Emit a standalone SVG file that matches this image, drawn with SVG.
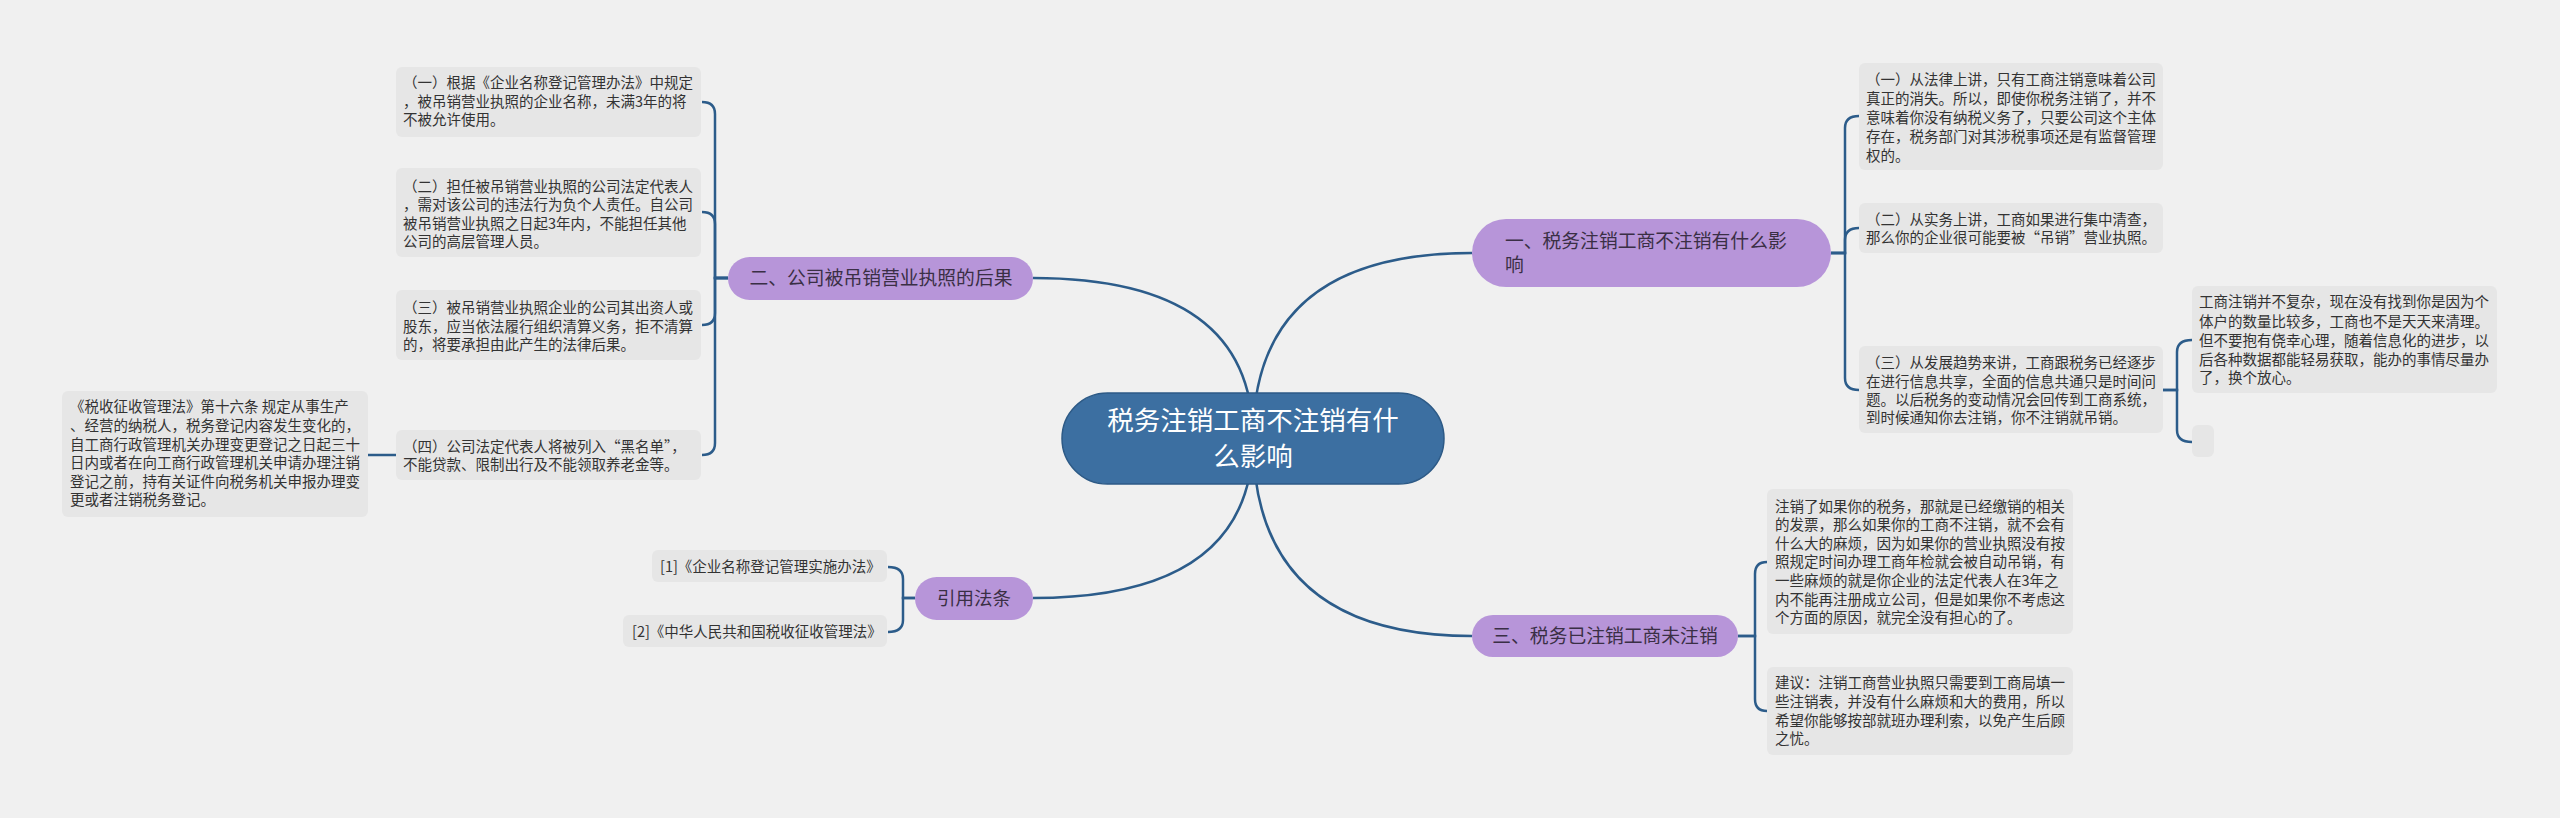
<svg xmlns="http://www.w3.org/2000/svg" width="2560" height="818" viewBox="0 0 2560 818">
<style>
.bg{fill:#f0f0f0}
.leaf rect{fill:#e6e6e6}
.leaf text{font-family:"Noto Sans CJK SC","Noto Sans",sans-serif;font-size:14.5px;fill:#333}
.br rect{fill:#b795d9}
.br text{font-family:"Noto Sans CJK SC","Noto Sans",sans-serif;font-size:18.8px;fill:#3a2f45}
.root rect{fill:#3c6fa1;stroke:#2d5a86;stroke-width:1.5}
.root text{font-family:"Noto Sans CJK SC","Noto Sans",sans-serif;font-size:26.5px;fill:#ffffff;text-anchor:middle}
.conn path{fill:none;stroke:#2c5c8a;stroke-width:2.5}
</style>
<rect class="bg" x="0" y="0" width="2560" height="818"/>
<g id="connectors" class="conn">
<path d="M1253,438 Q1253,253 1472,253"/>
<path d="M1253,438 Q1253,278 1033,278"/>
<path d="M1253,438 Q1253,636 1472,636"/>
<path d="M1253,438 Q1253,598 1033,598"/>
<path d="M728,278 H715 V114 Q715,102 702,102"/>
<path d="M728,278 H715 V224 Q715,212 702,212"/>
<path d="M728,278 H715 V313 Q715,325 702,325"/>
<path d="M728,278 H715 V443 Q715,455 702,455"/>
<path d="M396,455 H368"/>
<path d="M915,598 H903 V579 Q903,567 888,567"/>
<path d="M915,598 H903 V620 Q903,632 888,632"/>
<path d="M1831,253 H1845 V128 Q1845,116 1859,116"/>
<path d="M1831,253 H1845 V240 Q1845,228 1859,228"/>
<path d="M1831,253 H1845 V378 Q1845,390 1859,390"/>
<path d="M2163,390 H2177 V352 Q2177,340 2192,340"/>
<path d="M2163,390 H2177 V430 Q2177,442 2192,442"/>
<path d="M1738,636 H1755 V574 Q1755,562 1767,562"/>
<path d="M1738,636 H1755 V699 Q1755,711 1767,711"/>
</g>
<g id="root" class="root">
<rect x="1062" y="393" width="382" height="91" rx="45.5"/>
<text x="1253" y="430">税务注销工商不注销有什</text>
<text x="1253" y="466">么影响</text>
</g>
<g id="b1" class="br">
<rect x="1472" y="219" width="359" height="68" rx="34"/>
<text x="1505" y="248">一、税务注销工商不注销有什么影</text>
<text x="1505" y="272">响</text>
</g>
<g id="b2" class="br">
<rect x="728" y="257" width="305" height="43" rx="21.5"/>
<text x="881" y="285" text-anchor="middle">二、公司被吊销营业执照的后果</text>
</g>
<g id="b3" class="br">
<rect x="1472" y="615" width="266" height="42" rx="21"/>
<text x="1605" y="643" text-anchor="middle">三、税务已注销工商未注销</text>
</g>
<g id="b4" class="br">
<rect x="915" y="577" width="118" height="43" rx="21.5"/>
<text x="974" y="604.5" text-anchor="middle" style="font-size:18.5px">引用法条</text>
</g>
<g id="l1" class="leaf">
<rect x="396" y="67" width="305" height="70" rx="6"/>
<text x="403" y="88">（一）根据《企业名称登记管理办法》中规定</text>
<text x="403" y="107">，被吊销营业执照的企业名称，未满3年的将</text>
<text x="403" y="125">不被允许使用。</text>
</g>
<g id="l2" class="leaf">
<rect x="396" y="168" width="305" height="89" rx="6"/>
<text x="403" y="192">（二）担任被吊销营业执照的公司法定代表人</text>
<text x="403" y="210">，需对该公司的违法行为负个人责任。自公司</text>
<text x="403" y="229">被吊销营业执照之日起3年内，不能担任其他</text>
<text x="403" y="247">公司的高层管理人员。</text>
</g>
<g id="l3" class="leaf">
<rect x="396" y="290" width="305" height="70" rx="6"/>
<text x="403" y="313">（三）被吊销营业执照企业的公司其出资人或</text>
<text x="403" y="332">股东，应当依法履行组织清算义务，拒不清算</text>
<text x="403" y="350">的，将要承担由此产生的法律后果。</text>
</g>
<g id="l4" class="leaf">
<rect x="396" y="430" width="305" height="50" rx="6"/>
<text x="403" y="452">（四）公司法定代表人将被列入“黑名单”，</text>
<text x="403" y="470">不能贷款、限制出行及不能领取养老金等。</text>
</g>
<g id="l4a" class="leaf">
<rect x="62" y="391" width="306" height="126" rx="6"/>
<text x="70" y="412">《税收征收管理法》第十六条 规定从事生产</text>
<text x="70" y="431">、经营的纳税人，税务登记内容发生变化的，</text>
<text x="70" y="450">自工商行政管理机关办理变更登记之日起三十</text>
<text x="70" y="468">日内或者在向工商行政管理机关申请办理注销</text>
<text x="70" y="487">登记之前，持有关证件向税务机关申报办理变</text>
<text x="70" y="505">更或者注销税务登记。</text>
</g>
<g id="r1" class="leaf">
<rect x="652" y="550" width="235" height="32" rx="6"/>
<text x="660" y="572">[1]《企业名称登记管理实施办法》</text>
</g>
<g id="r2" class="leaf">
<rect x="623" y="615" width="264" height="32" rx="6"/>
<text x="632" y="637">[2]《中华人民共和国税收征收管理法》</text>
</g>
<g id="a1" class="leaf">
<rect x="1859" y="63" width="304" height="107" rx="6"/>
<text x="1866" y="85">（一）从法律上讲，只有工商注销意味着公司</text>
<text x="1866" y="104">真正的消失。所以，即使你税务注销了，并不</text>
<text x="1866" y="123">意味着你没有纳税义务了，只要公司这个主体</text>
<text x="1866" y="142">存在，税务部门对其涉税事项还是有监督管理</text>
<text x="1866" y="161">权的。</text>
</g>
<g id="a2" class="leaf">
<rect x="1859" y="203" width="304" height="50" rx="6"/>
<text x="1866" y="225">（二）从实务上讲，工商如果进行集中清查，</text>
<text x="1866" y="243">那么你的企业很可能要被“吊销”营业执照。</text>
</g>
<g id="a3" class="leaf">
<rect x="1859" y="346" width="304" height="87" rx="6"/>
<text x="1866" y="368">（三）从发展趋势来讲，工商跟税务已经逐步</text>
<text x="1866" y="387">在进行信息共享，全面的信息共通只是时间问</text>
<text x="1866" y="405">题。以后税务的变动情况会回传到工商系统，</text>
<text x="1866" y="423">到时候通知你去注销，你不注销就吊销。</text>
</g>
<g id="a3a" class="leaf">
<rect x="2192" y="286" width="305" height="107" rx="6"/>
<text x="2199" y="307">工商注销并不复杂，现在没有找到你是因为个</text>
<text x="2199" y="327">体户的数量比较多，工商也不是天天来清理。</text>
<text x="2199" y="346">但不要抱有侥幸心理，随着信息化的进步，以</text>
<text x="2199" y="365">后各种数据都能轻易获取，能办的事情尽量办</text>
<text x="2199" y="383">了，换个放心。</text>
</g>
<g id="a3b" class="leaf">
<rect x="2192" y="425" width="22" height="32" rx="6"/>
</g>
<g id="c1" class="leaf">
<rect x="1767" y="489" width="306" height="145" rx="6"/>
<text x="1775" y="512">注销了如果你的税务，那就是已经缴销的相关</text>
<text x="1775" y="530">的发票，那么如果你的工商不注销，就不会有</text>
<text x="1775" y="549">什么大的麻烦，因为如果你的营业执照没有按</text>
<text x="1775" y="567">照规定时间办理工商年检就会被自动吊销，有</text>
<text x="1775" y="586">一些麻烦的就是你企业的法定代表人在3年之</text>
<text x="1775" y="605">内不能再注册成立公司，但是如果你不考虑这</text>
<text x="1775" y="623">个方面的原因，就完全没有担心的了。</text>
</g>
<g id="c2" class="leaf">
<rect x="1767" y="667" width="306" height="88" rx="6"/>
<text x="1775" y="688">建议：注销工商营业执照只需要到工商局填一</text>
<text x="1775" y="707">些注销表，并没有什么麻烦和大的费用，所以</text>
<text x="1775" y="726">希望你能够按部就班办理利索，以免产生后顾</text>
<text x="1775" y="744">之忧。</text>
</g>
</svg>
